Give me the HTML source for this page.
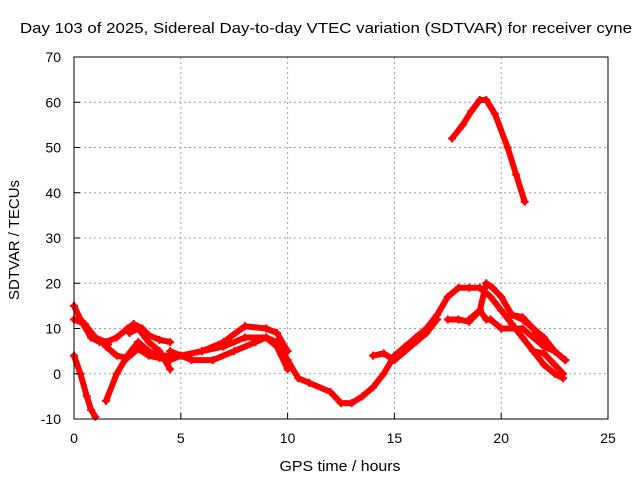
<!DOCTYPE html>
<html><head><meta charset="utf-8"><style>
body{margin:0;background:#fff}
svg{display:block;font-family:"Liberation Sans",sans-serif}
</style></head><body>
<svg id="chart" width="640" height="480" viewBox="0 0 640 480">
<rect width="640" height="480" fill="#fff"/>
<g id="grid"></g>
<g id="series"></g>
<rect x="74" y="57" width="534" height="362" fill="none" stroke="#000" stroke-width="1"/>
<g id="ticks"></g>
<text x="20" y="33" font-size="15" textLength="612" lengthAdjust="spacingAndGlyphs">Day 103 of 2025, Sidereal Day-to-day VTEC variation (SDTVAR) for receiver cyne</text>
<text x="340" y="471" text-anchor="middle" font-size="15" textLength="121" lengthAdjust="spacingAndGlyphs">GPS time / hours</text>
<text x="19" y="240" text-anchor="middle" font-size="15" textLength="120" lengthAdjust="spacingAndGlyphs" transform="rotate(-90 19 240)">SDTVAR / TECUs</text>
</svg>
<script>
const xTicks=[0,5,10,15,20,25];
const yTicks=[-10,0,10,20,30,40,50,60,70];
const trackA=[[17.7,52],[18.2,55],[18.6,58],[19,60.5],[19.3,60.5],[19.7,57.5],[20.3,50],[20.7,44],[21.1,38]];
const trackB=[[0,4],[0.3,0],[0.6,-5],[0.8,-8],[1,-9.5]];
const trackC=[[0,15],[0.3,12],[0.8,8],[1.2,7],[1.6,6.5]];
const trackD=[[1.5,-6],[2,0],[2.5,4],[3,7],[3.5,5],[4,4],[5,4],[6,5],[7,6],[8,8],[9,8],[9.5,7],[10,3],[10.5,-1],[11,-2],[12,-4],[12.5,-6.5],[13,-6.5],[13.5,-5],[14,-3],[14.5,0],[15,4],[15.5,6],[16,8],[16.5,10],[17,13],[17.5,17],[18,19],[18.5,19],[19,19],[19.5,17],[20,14],[20.5,11],[21,8],[21.5,5],[22,2],[22.5,0],[22.9,-1]];
const trackE=[[0,12],[0.5,11],[1,8],[1.5,7],[2,8],[2.5,10],[2.8,11],[3.2,10],[3.5,8.5],[4,7.5],[4.5,7]];
const trackF=[[1.5,6],[2,4],[2.5,3.5],[3,5.5],[3.5,4],[4,3.5],[4.5,3],[5,4],[6,5],[7,7],[8,10.5],[9,10],[9.5,9],[10,5]];
const trackG=[[2.6,9],[3,10],[3.5,7],[4,5],[4.5,1]];
const trackH=[[4.5,5],[5.5,3],[6.5,3],[7.5,5],[8.5,7],[9,8],[9.5,6],[10,1]];
const trackI=[[14,4],[14.5,4.5],[15,3],[15.5,5],[16,7],[16.5,9],[17,12]];
const trackJ=[[17.5,12],[18,12],[18.5,11.5],[19,14],[19.3,12],[19.5,12],[20,10],[21,10],[22,6],[22.5,5],[23,3]];
const trackK=[[18.5,12],[19,14],[19.3,20],[19.6,19],[20,17],[20.5,13],[21,12],[22,8],[22.5,5],[23,3]];
const trackL=[[20.5,13],[21,12.5],[21.5,10],[22,6],[22.5,5]];
const trackM=[[21.5,5],[22,4.5],[22.5,2],[22.9,0]];
const tracks=[trackA,trackB,trackC,trackD,trackE,trackF,trackG,trackH,trackI,trackJ,trackK,trackL,trackM];
const NS='http://www.w3.org/2000/svg';
const X=v=>74+v*(534/25);
const Y=v=>419-(v+10)*(362/80);
const grid=document.getElementById('grid'),ticks=document.getElementById('ticks'),ser=document.getElementById('series');
function mk(t,a,p){const e=document.createElementNS(NS,t);for(const k in a)e.setAttribute(k,a[k]);p.appendChild(e);return e;}
xTicks.forEach(v=>{
 if(v>0&&v<25){const g=mk('line',{x1:X(v),x2:X(v),y1:57,y2:419,stroke:'#a0a0a0','stroke-dasharray':'2,3'},grid);
 
 }
 const t=mk('line',{x1:X(v),x2:X(v),y1:419,y2:413,stroke:'#000'},ticks);
 
 
 const l=mk('text',{x:X(v),y:443,'text-anchor':'middle','font-size':'14'},ticks);l.textContent=v;
 
 
});
yTicks.forEach(v=>{
 if(v>-10&&v<70){const g=mk('line',{x1:74,x2:608,y1:Y(v),y2:Y(v),stroke:'#a0a0a0','stroke-dasharray':'2,3'},grid);
 
 }
 const t=mk('line',{x1:74,x2:80,y1:Y(v),y2:Y(v),stroke:'#000'},ticks);
 
 
 const l=mk('text',{x:61,y:Y(v)+5,'text-anchor':'end','font-size':'14'},ticks);l.textContent=v;
 
 
});
tracks.forEach((tr,i)=>{
 const p=mk('polyline',{points:tr.map(d=>X(d[0])+','+Y(d[1])).join(' '),fill:'none',stroke:'#ff0000','stroke-width':'6','stroke-linejoin':'round','stroke-linecap':'round'},ser);
 
 
 tr.forEach(d=>{
  const m=mk('path',{d:`M${X(d[0])-4},${Y(d[1])}h8M${X(d[0])},${Y(d[1])-4}v8`,stroke:'#ff0000','stroke-width':'2'},ser);
  
  
 });
});
</script>
</body></html>
